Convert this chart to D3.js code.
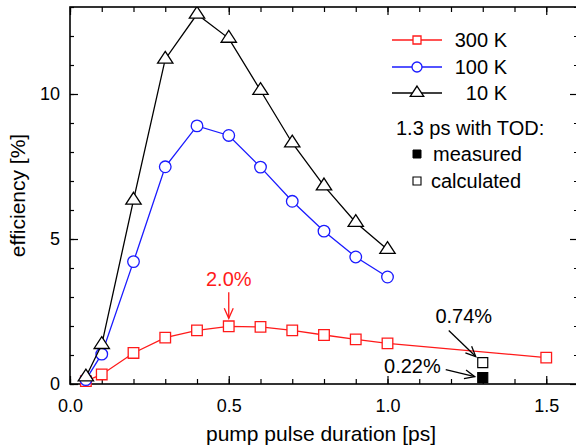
<!DOCTYPE html>
<html>
<head>
<meta charset="utf-8">
<script src="https://cdn.jsdelivr.net/npm/d3@7"></script>
<style>
  body { margin: 0; background: #fff; }
  svg { display: block; font-family: "Liberation Sans", Arial, Helvetica, sans-serif; }
</style>
</head>
<body>
<div id="chart"></div>
<script>
// data
const durations = [0.05, 0.1, 0.2, 0.3, 0.4, 0.5, 0.6, 0.7, 0.8, 0.9, 1.0];
const durations300 = [0.05, 0.1, 0.2, 0.3, 0.4, 0.5, 0.6, 0.7, 0.8, 0.9, 1.0, 1.5];
const eff300K = [0.1, 0.33, 1.07, 1.6, 1.85, 1.99, 1.97, 1.85, 1.69, 1.54, 1.4, 0.91];
const eff100K = [0.15, 1.03, 4.22, 7.49, 8.9, 8.57, 7.48, 6.3, 5.27, 4.38, 3.69];
const eff10K = [0.24, 1.36, 6.34, 11.2, 12.75, 11.92, 10.12, 8.31, 6.83, 5.57, 4.64];
const seriesNames = ["300 K", "100 K", "10 K"];
const seriesColors = ["#ff1a1a", "#1a1aff", "#000000"];
const seriesShapes = ["square", "circle", "triangle"];

const todDuration = 1.3;
const todMeasured = 0.22;
const todCalculated = 0.74;

const xMajorTicks = [0, 0.5, 1.0, 1.5];
const xMinorTicks = d3.range(0, 1.61, 0.1);
const yMajorTicks = [0, 5, 10];
const yMinorTicks = d3.range(0, 14, 1);

const width = 576, height = 446;
const margin = {top: 7, right: -2, bottom: 62, left: 70};

const svg = d3.select("#chart").append("svg")
    .attr("width", width)
    .attr("height", height);

const x = d3.scaleLinear().domain([0, 1.6]).range([margin.left, width - margin.right]);
const y = d3.scaleLinear().domain([0, 13]).range([height - margin.bottom, margin.top]);

// axes, ticks pointing inward on all four sides
const fmtX = d3.format(".1f");
function styleAxis(g) {
    g.select(".domain").remove();
    g.selectAll(".tick line").attr("stroke", "#000").attr("stroke-width", 1.2);
    g.selectAll(".tick text").attr("fill", "#000").attr("font-size", 18)
        .attr("font-family", "'Liberation Sans', Arial, sans-serif");
}
svg.append("g").attr("transform", "translate(0," + y(0) + ")")
    .call(d3.axisBottom(x).tickValues(xMinorTicks).tickSize(-5).tickFormat(""))
    .call(styleAxis);
svg.append("g").attr("transform", "translate(0," + y(0) + ")")
    .call(d3.axisBottom(x).tickValues(xMajorTicks).tickSize(-8).tickPadding(15).tickFormat(fmtX))
    .call(styleAxis);
svg.append("g").attr("transform", "translate(0," + y(13) + ")")
    .call(d3.axisTop(x).tickValues(xMinorTicks).tickSize(-5).tickFormat(""))
    .call(styleAxis);
svg.append("g").attr("transform", "translate(0," + y(13) + ")")
    .call(d3.axisTop(x).tickValues(xMajorTicks).tickSize(-8).tickFormat(""))
    .call(styleAxis);
svg.append("g").attr("transform", "translate(" + x(0) + ",0)")
    .call(d3.axisLeft(y).tickValues(yMinorTicks).tickSize(-4).tickFormat(""))
    .call(styleAxis);
svg.append("g").attr("transform", "translate(" + x(0) + ",0)")
    .call(d3.axisLeft(y).tickValues(yMajorTicks).tickSize(-8).tickPadding(10).tickFormat(d3.format("d")))
    .call(styleAxis);
svg.append("g").attr("transform", "translate(" + x(1.6) + ",0)")
    .call(d3.axisRight(y).tickValues(yMinorTicks).tickSize(-4).tickFormat(""))
    .call(styleAxis);
svg.append("g").attr("transform", "translate(" + x(1.6) + ",0)")
    .call(d3.axisRight(y).tickValues(yMajorTicks).tickSize(-8).tickFormat(""))
    .call(styleAxis);

// frame
svg.append("rect")
    .attr("x", x(0)).attr("y", y(13))
    .attr("width", x(1.6) - x(0)).attr("height", y(0) - y(13))
    .attr("fill", "none").attr("stroke", "#000").attr("stroke-width", 1.6);

// axis titles
svg.append("text")
    .attr("x", (x(0) + x(1.6)) / 2 - 3).attr("y", 441)
    .attr("text-anchor", "middle").attr("font-size", 21)
    .text("pump pulse duration [ps]");
svg.append("text")
    .attr("transform", "translate(25," + (y(0) + y(13)) / 2 + ") rotate(-90)")
    .attr("text-anchor", "middle").attr("font-size", 21)
    .text("efficiency [%]");

// markers
function markerPath(shape, s) {
    if (shape === "square") return "M" + (-s) + "," + (-s) + "h" + (2 * s) + "v" + (2 * s) + "h" + (-2 * s) + "Z";
    if (shape === "triangle") {
        const w = s * 1.3, h = s * 2;
        return "M0," + (-h * 2 / 3) + "L" + w + "," + (h / 3) + "L" + (-w) + "," + (h / 3) + "Z";
    }
    return d3.arc()({innerRadius: 0, outerRadius: s, startAngle: 0, endAngle: 2 * Math.PI});
}
const markerSize = {square: 5.3, circle: 5.8, triangle: 5.9};

svg.append("clipPath").attr("id", "clip")
    .append("rect").attr("x", 0).attr("y", y(13)).attr("width", width).attr("height", height);

const plot = svg.append("g").attr("clip-path", "url(#clip)");
const line = d3.line().x(d => x(d[0])).y(d => y(d[1]));

const series = [
    d3.zip(durations300, eff300K),
    d3.zip(durations, eff100K),
    d3.zip(durations, eff10K)
];

series.forEach((pts, i) => {
    const g = plot.append("g");
    g.append("path").datum(pts)
        .attr("d", line)
        .attr("fill", "none")
        .attr("stroke", seriesColors[i])
        .attr("stroke-width", 1.3);
    g.selectAll("path.m").data(pts).enter().append("path")
        .attr("class", "m")
        .attr("transform", d => "translate(" + x(d[0]) + "," + y(d[1]) + ")")
        .attr("d", markerPath(seriesShapes[i], markerSize[seriesShapes[i]]))
        .attr("fill", "#fff")
        .attr("stroke", seriesColors[i])
        .attr("stroke-width", 1.3);
});

// TOD points
plot.append("path")
    .attr("transform", "translate(" + x(todDuration) + "," + y(todCalculated) + ")")
    .attr("d", markerPath("square", 5))
    .attr("fill", "#fff").attr("stroke", "#000").attr("stroke-width", 1.2);
plot.append("path")
    .attr("transform", "translate(" + x(todDuration) + "," + y(todMeasured) + ")")
    .attr("d", markerPath("square", 5))
    .attr("fill", "#000").attr("stroke", "#000").attr("stroke-width", 1.2);

// annotations with arrows
function arrow(x1, y1, x2, y2, color) {
    const a = Math.atan2(y2 - y1, x2 - x1), L = 11, sp = 0.42;
    svg.append("line").attr("x1", x1).attr("y1", y1).attr("x2", x2).attr("y2", y2)
        .attr("stroke", color).attr("stroke-width", 1.3);
    svg.append("path")
        .attr("d", "M" + (x2 - L * Math.cos(a - sp)) + "," + (y2 - L * Math.sin(a - sp)) +
            "L" + x2 + "," + y2 +
            "L" + (x2 - L * Math.cos(a + sp)) + "," + (y2 - L * Math.sin(a + sp)))
        .attr("fill", "none").attr("stroke", color).attr("stroke-width", 1.3);
}

const peak300 = [durations300[5], eff300K[5]];
arrow(x(peak300[0]), y(peak300[1]) - 34, x(peak300[0]), y(peak300[1]) - 8, "#ff1a1a");
svg.append("text").attr("x", x(peak300[0])).attr("y", y(peak300[1]) - 40)
    .attr("text-anchor", "middle").attr("font-size", 20).attr("fill", "#ff1a1a")
    .text(d3.format(".1f")(peak300[1]) + "%");

arrow(x(todDuration) - 34, y(todCalculated) - 32, x(todDuration) - 7, y(todCalculated) - 6, "#000");
svg.append("text").attr("x", x(todDuration) - 19).attr("y", y(todCalculated) - 39.5)
    .attr("text-anchor", "middle").attr("font-size", 20)
    .text(todCalculated + "%");

arrow(x(todDuration) - 37, y(todMeasured) - 8, x(todDuration) - 8, y(todMeasured) - 1, "#000");
svg.append("text").attr("x", x(todDuration) - 42).attr("y", y(todMeasured) - 4.6)
    .attr("text-anchor", "end").attr("font-size", 20)
    .text(todMeasured + "%");

// legend
const legendY = [40, 67, 93];
const legendSize = {square: 4, circle: 5, triangle: 5.2};
seriesNames.forEach((name, i) => {
    const g = svg.append("g").attr("transform", "translate(0," + legendY[i] + ")");
    g.append("line").attr("x1", 392).attr("x2", 442)
        .attr("stroke", seriesColors[i]).attr("stroke-width", 1.3);
    g.append("path").attr("transform", "translate(417,0)")
        .attr("d", markerPath(seriesShapes[i], legendSize[seriesShapes[i]]))
        .attr("fill", "#fff").attr("stroke", seriesColors[i]).attr("stroke-width", 1.3);
    g.append("text").attr("x", 507).attr("y", 7).attr("text-anchor", "end")
        .attr("font-size", 20).text(name);
});
svg.append("text").attr("x", 396).attr("y", 135).attr("font-size", 20).text("1.3 ps with TOD:");
svg.append("path").attr("transform", "translate(417,154)").attr("d", markerPath("square", 4))
    .attr("fill", "#000").attr("stroke", "#000");
svg.append("text").attr("x", 433).attr("y", 161).attr("font-size", 20).text("measured");
svg.append("path").attr("transform", "translate(417,181)").attr("d", markerPath("square", 4))
    .attr("fill", "#fff").attr("stroke", "#000").attr("stroke-width", 1.1);
svg.append("text").attr("x", 431).attr("y", 188).attr("font-size", 20).text("calculated");
</script>
</body>
</html>
